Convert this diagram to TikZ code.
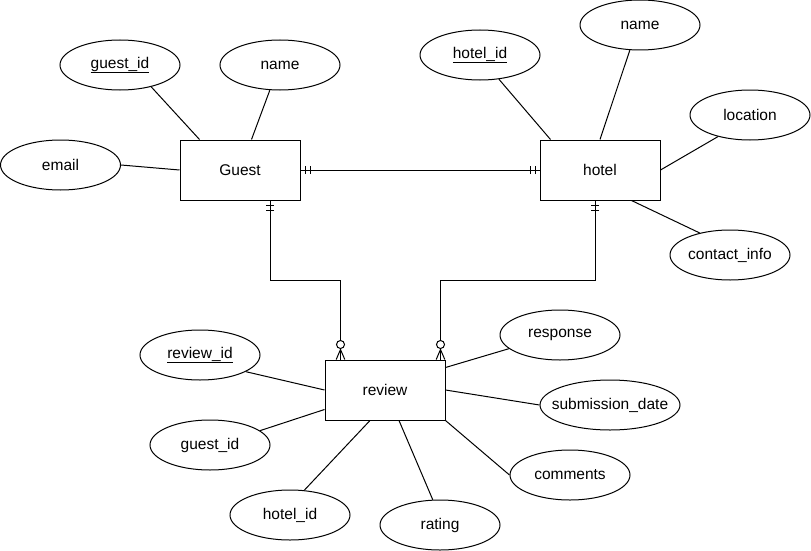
\documentclass[tikz,border=0pt]{standalone}
\usepackage{fontspec}
\setmainfont{Liberation Sans}
\usetikzlibrary{shapes.geometric,calc}
\begin{document}
\begin{tikzpicture}[x=1pt,y=-1pt,
  line width=1pt,
  every node/.style={font=\fontsize{15.5}{18}\selectfont},
  entity/.style={draw, rectangle, minimum width=120pt, minimum height=60pt, inner sep=0pt},
  attr/.style={draw, ellipse, minimum width=120pt, minimum height=50pt, inner sep=0pt,
    label={center:#1}},
  % crow's foot notation markers, drawn with local x pointing away from the entity
  mandone/.pic={\draw (4.5,-4) -- (4.5,4) (9.5,-4) -- (9.5,4);},
  zeromany/.pic={\draw (0,-4.3) -- (10,0) -- (0,4.3);
                 \draw[fill=white] (15,0) circle[radius=4pt];}
]
\useasboundingbox (0,0) rectangle (811,551);

% entities
\node[entity] (guest)  at (240,170) {Guest};
\node[entity] (hotel)  at (600,170) {hotel};
\node[entity] (review) at (385,390) {review};

% Guest attributes
\node[attr={\underline{guest\_id}}] (gid)   at (120,65)   {};
\node[attr=name]                    (gname) at (280,65)   {};
\node[attr=email]                   (email) at (60.5,165) {};

% hotel attributes
\node[attr={\underline{hotel\_id}}] (hid)   at (480,55)  {};
\node[attr=name]                    (hname) at (640,25)  {};
\node[attr=location]                (loc)   at (750,115) {};
\node[attr={contact\_info}]         (ci)    at (730,255) {};

% review attributes
\node[attr={\underline{review\_id}}] (rid)    at (200,355) {};
\node[attr={guest\_id}]              (rgid)   at (210,445) {};
\node[attr={hotel\_id}]              (rhid)   at (290,515) {};
\node[attr=rating]                   (rating) at (440,525) {};
\node[attr=comments]                 (comm)   at (570,475) {};
\node[attr={submission\_date}, minimum width=140pt] (sub) at (610,405) {};
\node[attr=response]                 (resp)   at (560,335) {};

% attribute links
\draw (gid.-35)    -- ($(guest.north west)+(20,0)$);
\draw (gname.-112) -- ($(guest.north west)+(72,0)$);
\draw (email.east) -- (guest.west);

\draw (hid.-52)    -- ($(hotel.north west)+(11,0)$);
\draw (hname.-112) -- (hotel.north);
\draw (loc.-146)   -- (hotel.east);
\draw (ci.144)     -- ($(hotel.south east)+(-29,0)$);

\draw (resp.-165)  -- ($(review.north east)+(0,8)$);
\draw (sub.west)   -- (review.east);
\draw (rid.-20)    -- (review.west);
\draw (rgid.16)    -- ($(review.south west)+(0,-11)$);
\draw (rhid.60)    -- ($(review.south)+(-15,0)$);
\draw (rating.106) -- ($(review.south)+(14,0)$);
\draw (comm.west)  -- (review.south east);

% relationships
\draw (guest.east) -- (hotel.west);
\pic at (guest.east) {mandone};
\pic[rotate=180] at (hotel.west) {mandone};

\draw ($(guest.south)+(30,0)$) coordinate (g1) -- ++(0,80)
      -| ($(review.north west)+(16,0)$) coordinate (r1);
\pic[rotate=-90] at (g1) {mandone};
\pic[rotate=90]  at (r1) {zeromany};

\draw ($(hotel.south)+(-5,0)$) coordinate (h1) -- ++(0,80)
      -| ($(review.north east)+(-5,0)$) coordinate (r2);
\pic[rotate=-90] at (h1) {mandone};
\pic[rotate=90]  at (r2) {zeromany};
\end{tikzpicture}
\end{document}
